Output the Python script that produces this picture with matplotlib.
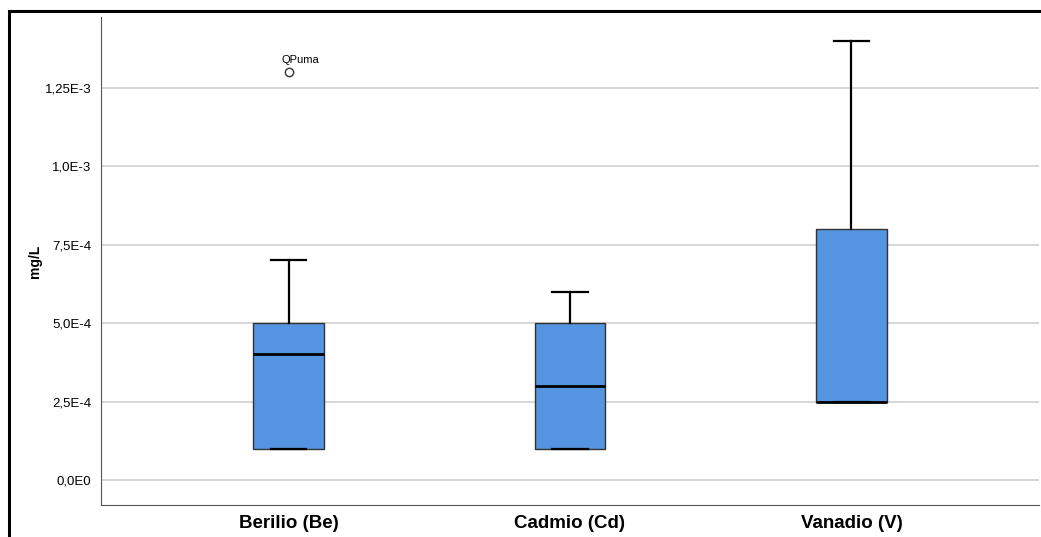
import matplotlib
matplotlib.use("Agg")
import matplotlib.pyplot as plt
from matplotlib.patches import Rectangle

categories = ["Berilio (Be)", "Cadmio (Cd)", "Vanadio (V)"]
whislo = [1.0e-4, 1.0e-4, 2.5e-4]
q1 = [1.0e-4, 1.0e-4, 2.5e-4]
med = [4.0e-4, 3.0e-4, 2.5e-4]
q3 = [5.0e-4, 5.0e-4, 8.0e-4]
whishi = [7.0e-4, 6.0e-4, 1.4e-3]
outliers = [[1.30e-3], [], []]
outlier_labels = ["QPuma", "", ""]
yticks = [0.0, 2.5e-4, 5.0e-4, 7.5e-4, 1.0e-3, 1.25e-3]
yticklabels = ["0,0E0", "2,5E-4", "5,0E-4", "7,5E-4", "1,0E-3", "1,25E-3"]

plt.rcParams['font.family'] = ['Liberation Sans', 'DejaVu Sans']

fig = plt.figure(figsize=(10.41, 5.37), dpi=100)
ax = fig.add_axes([101/1041, 1 - 505/537, (1039 - 101)/1041, (505 - 17)/537])

stats = []
for i, c in enumerate(categories):
    stats.append(dict(label=c, whislo=whislo[i], q1=q1[i], med=med[i], q3=q3[i],
                      whishi=whishi[i], fliers=outliers[i]))

positions = [1, 2, 3]
ax.bxp(stats, positions=positions, widths=0.25, patch_artist=True,
       boxprops=dict(facecolor="#5594E0", edgecolor="#333333", linewidth=1.0),
       medianprops=dict(color="black", linewidth=2.0),
       whiskerprops=dict(color="black", linewidth=1.6),
       capprops=dict(color="black", linewidth=1.6),
       capwidths=0.125,
       flierprops=dict(marker="o", markerfacecolor="white", markeredgecolor="#333333",
                       markersize=6, markeredgewidth=1.0),
       zorder=3)

for i, lab in enumerate(outlier_labels):
    for v in outliers[i]:
        if lab:
            ax.annotate(lab, (positions[i], v), xytext=(-5, 5), textcoords="offset points",
                        ha="left", va="bottom", fontsize=8, color="black")

ax.set_xlim(1/3, 3 + 2/3)
ax.set_ylim(-0.8e-4, 1.476e-3)
ax.set_yticks(yticks)
ax.set_yticklabels(yticklabels, fontsize=9.5)
ax.set_xticks(positions)
ax.set_xticklabels(categories, fontsize=13.5, fontweight="bold")
ax.tick_params(axis="x", length=0, pad=7)
ax.tick_params(axis="y", length=0, pad=7)
ax.yaxis.grid(True, color="#d0d0d0", linewidth=1.2, zorder=0)
ax.set_axisbelow(True)
for s in ["top", "right"]:
    ax.spines[s].set_visible(False)
ax.spines["left"].set_color("#555555")
ax.spines["bottom"].set_color("#555555")
ax.set_ylabel("mg/L", fontsize=10, fontweight="bold")
ax.yaxis.set_label_coords((42 - 101) / 938, 0.5)

# outer frame
fig.add_artist(Rectangle((9/1041, -0.1), 1.2, 1 - 11/537 + 0.1, transform=fig.transFigure,
                         fill=False, edgecolor="black", linewidth=2.2))

fig.savefig("out.png", dpi=100)
